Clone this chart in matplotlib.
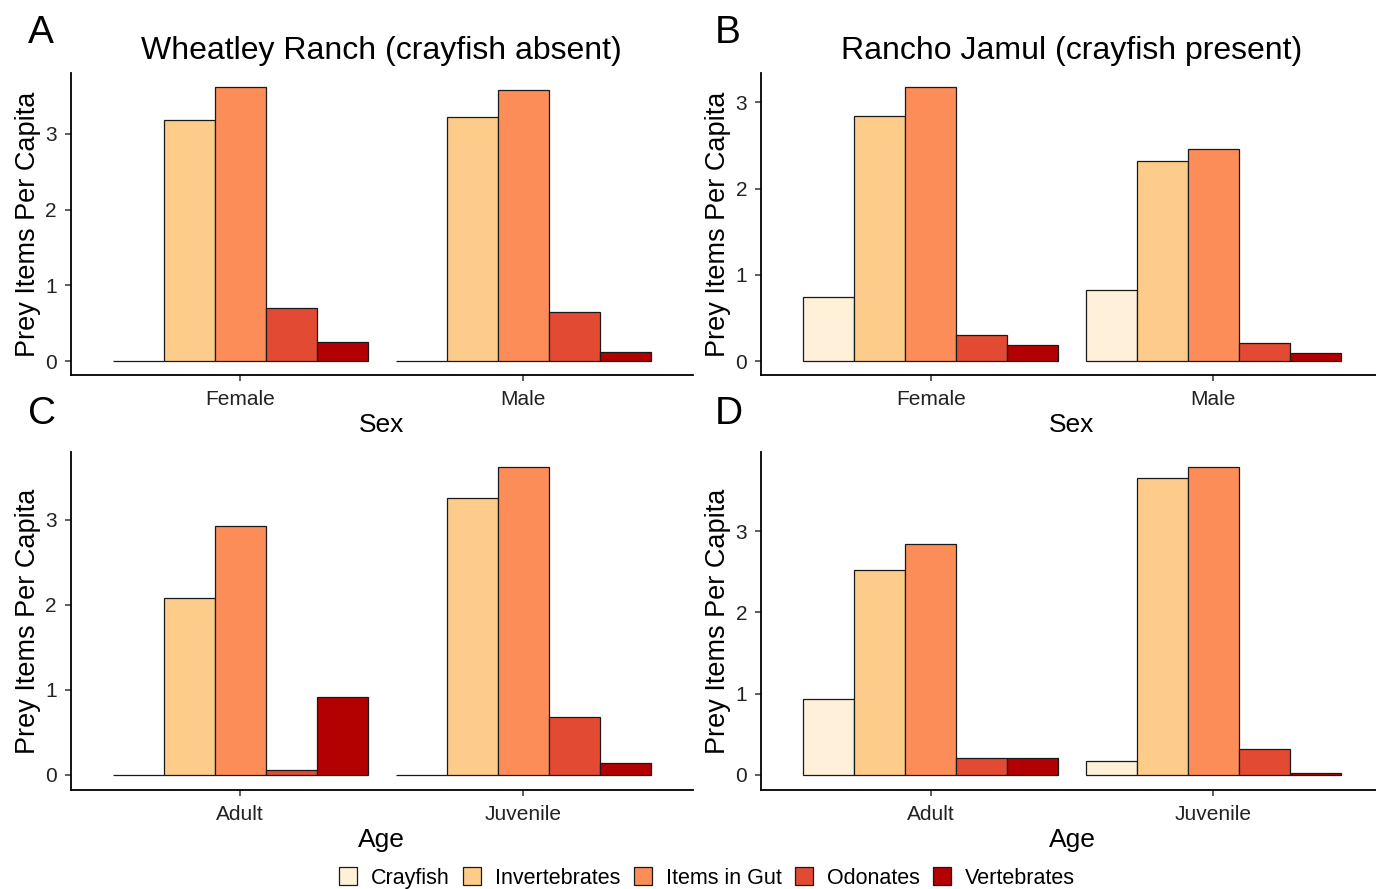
import matplotlib
matplotlib.use("Agg")
import matplotlib.pyplot as plt
from matplotlib.patches import Patch
import numpy as np

plt.rcParams['font.family'] = ['Liberation Sans', 'DejaVu Sans']

prey_types = ['Crayfish', 'Invertebrates', 'Items in Gut', 'Odonates', 'Vertebrates']
prey_colors = ['#FEF0D9', '#FDCC8A', '#FC8D59', '#E34A33', '#B30000']

sex_groups = ['Female', 'Male']
age_groups = ['Adult', 'Juvenile']

# Panel A: Wheatley Ranch by sex
wheatley_female = [0.0, 3.18, 3.62, 0.70, 0.25]
wheatley_male = [0.0, 3.22, 3.58, 0.645, 0.12]
# Panel B: Rancho Jamul by sex
rancho_female = [0.75, 2.84, 3.18, 0.30, 0.19]
rancho_male = [0.83, 2.32, 2.46, 0.21, 0.10]
# Panel C: Wheatley Ranch by age
wheatley_adult = [0.0, 2.08, 2.93, 0.05, 0.92]
wheatley_juvenile = [0.0, 3.26, 3.62, 0.68, 0.14]
# Panel D: Rancho Jamul by age
rancho_adult = [0.93, 2.52, 2.85, 0.20, 0.20]
rancho_juvenile = [0.17, 3.66, 3.79, 0.32, 0.025]

W, H = 1376, 889
fig = plt.figure(figsize=(W / 100, H / 100), dpi=100)


def px_axes(x0, x1, y0, y1):
    return fig.add_axes([x0 / W, 1 - y1 / H, (x1 - x0) / W, (y1 - y0) / H])


panels = [
    dict(box=(70.5, 693, 73, 375), groups=sex_groups, vals=[wheatley_female, wheatley_male],
         title='Wheatley Ranch (crayfish absent)', xlabel='Sex', letter='A'),
    dict(box=(761, 1383, 73, 375), groups=sex_groups, vals=[rancho_female, rancho_male],
         title='Rancho Jamul (crayfish present)', xlabel='Sex', letter='B'),
    dict(box=(70.5, 693, 452, 790), groups=age_groups, vals=[wheatley_adult, wheatley_juvenile],
         title=None, xlabel='Age', letter='C'),
    dict(box=(761, 1383, 452, 790), groups=age_groups, vals=[rancho_adult, rancho_juvenile],
         title=None, xlabel='Age', letter='D'),
]

bw = 0.18
for p in panels:
    ax = px_axes(*p['box'])
    vals = np.array(p['vals'])
    for j, prey in enumerate(prey_types):
        xs = np.arange(len(p['groups'])) + (j - 2) * bw
        ax.bar(xs, vals[:, j], width=bw, color=prey_colors[j], edgecolor='#1a1a1a',
               linewidth=0.9, zorder=2)
    M = vals.max()
    ax.set_ylim(-0.05 * M, 1.05 * M)
    ax.set_xlim(-0.6, len(p['groups']) - 0.4)
    ax.set_xticks(range(len(p['groups'])))
    ax.set_xticklabels(p['groups'])
    ax.set_yticks([0, 1, 2, 3])
    for s in ['top', 'right']:
        ax.spines[s].set_visible(False)
    for s in ['left', 'bottom']:
        ax.spines[s].set_linewidth(1.3)
        ax.spines[s].set_color('black')
    ax.tick_params(axis='both', labelsize=15, labelcolor='#222222', color='#333333',
                   length=4, width=1.1)
    ax.tick_params(axis='x', pad=6.5)
    ax.tick_params(axis='y', pad=6)
    ax.set_ylabel('Prey Items Per Capita', fontsize=19.5, color='black', labelpad=3)
    ax.set_xlabel(p['xlabel'], fontsize=19, color='black', labelpad=3)
    if p['title']:
        ax.set_title(p['title'], fontsize=23, color='black', pad=10)
    x0, x1, y0, y1 = p['box']
    lx = 28 if x0 < 100 else 715
    ly = 33 if y0 < 100 else 414
    fig.text(lx / W, 1 - ly / H, p['letter'], fontsize=28, ha='left', va='center')

handles = [Patch(facecolor=c, edgecolor='#1a1a1a', linewidth=0.9, label=l)
           for c, l in zip(prey_colors, prey_types)]
fig.legend(handles=handles, loc='center', bbox_to_anchor=(707 / W, 1 - 878 / H), ncol=5,
           frameon=False, fontsize=15.5, handlelength=0.85, handleheight=0.85,
           handletextpad=0.65, columnspacing=0.6, borderaxespad=0, borderpad=0)

fig.savefig('out.png', dpi=100)
